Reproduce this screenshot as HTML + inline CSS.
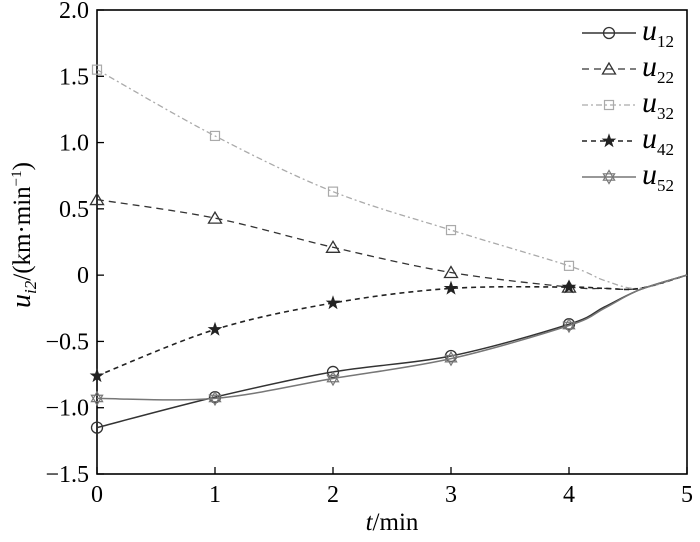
<!DOCTYPE html>
<html><head><meta charset="utf-8"><style>
body{margin:0;background:#fff;}
svg text{font-family:"Liberation Serif",serif;}
</style></head><body>
<svg id="chart" width="700" height="537" xmlns="http://www.w3.org/2000/svg"></svg>
<script>
const tVals=[0,1,2,3,4];
const u12=[-1.15,-0.92,-0.73,-0.61,-0.37];
const u22=[0.57,0.43,0.21,0.02,-0.09];
const u32=[1.55,1.05,0.63,0.34,0.07];
const u42=[-0.76,-0.41,-0.21,-0.10,-0.09];
const u52=[-0.93,-0.93,-0.78,-0.63,-0.38];
const tailT=[4.3,4.6,5];
const tail12=[-0.24,-0.11,0];
const tail22=[-0.10,-0.10,0];
const tail32=[-0.04,-0.10,0];
const tail42=[-0.10,-0.10,0];
const tail52=[-0.25,-0.11,0];
const xTicks=[0,1,2,3,4,5];
const yTicks=[2.0,1.5,1.0,0.5,0,-0.5,-1.0,-1.5];
const yTickLabels=["2.0","1.5","1.0","0.5","0","\u22120.5","\u22121.0","\u22121.5"];
const L=97,R=687,T=10,B=474;
const X=t=>L+(t-0)/5*(R-L);
const Y=v=>T+(2.0-v)/3.5*(B-T);
const svg=document.getElementById('chart');
const NS="http://www.w3.org/2000/svg";
function mk(tag,attrs,parent){const e=document.createElementNS(NS,tag);for(const k in attrs)e.setAttribute(k,attrs[k]);(parent||svg).appendChild(e);return e;}
function smooth(pts){let d=`M${pts[0][0]},${pts[0][1]}`;for(let i=0;i<pts.length-1;i++){const p0=pts[i-1]||pts[i],p1=pts[i],p2=pts[i+1],p3=pts[i+2]||p2;const c1=[p1[0]+(p2[0]-p0[0])/6,p1[1]+(p2[1]-p0[1])/6],c2=[p2[0]-(p3[0]-p1[0])/6,p2[1]-(p3[1]-p1[1])/6];d+=`C${c1[0]},${c1[1]} ${c2[0]},${c2[1]} ${p2[0]},${p2[1]}`;}return d;}
function marker(type,x,y,color,g){
  if(type==='circle'){const c=mk('circle',{cx:x,cy:y,r:5.5,fill:'none',stroke:color,'stroke-width':1.3},g);}
  else if(type==='tri'){const p=mk('polygon',{points:`${x},${y-6} ${x-6.5},${y+5} ${x+6.5},${y+5}`,fill:'none',stroke:color,'stroke-width':1.3},g);}
  else if(type==='square'){const p=mk('rect',{x:x-4.5,y:y-4.5,width:9,height:9,fill:'none',stroke:color,'stroke-width':1.2},g);}
  else if(type==='star'){let pts=[];for(let i=0;i<10;i++){const a=-Math.PI/2+i*Math.PI/5,r=i%2?2.6:6.5;pts.push((x+r*Math.cos(a))+','+(y+r*Math.sin(a)));}const p=mk('polygon',{points:pts.join(' '),fill:color,stroke:color,'stroke-width':0.8},g);}
  else if(type==='hex'){const p1=mk('polygon',{points:`${x},${y-6.5} ${x-5.6},${y+3.2} ${x+5.6},${y+3.2}`,fill:'none',stroke:color,'stroke-width':1.2},g);const p2=mk('polygon',{points:`${x},${y+6.5} ${x-5.6},${y-3.2} ${x+5.6},${y-3.2}`,fill:'none',stroke:color,'stroke-width':1.2},g);}
}
const box=mk('rect',{x:L,y:T,width:R-L,height:B-T,fill:'none',stroke:'#000','stroke-width':1.6});

xTicks.forEach(t=>{const l=mk('line',{x1:X(t),x2:X(t),y1:B,y2:B-7,stroke:'#000','stroke-width':1.3});
 const tx=mk('text',{x:X(t),y:B+28,'text-anchor':'middle','font-size':24});tx.textContent=t;});
yTicks.forEach((v,i)=>{const l=mk('line',{x1:L,x2:L+7,y1:Y(v),y2:Y(v),stroke:'#000','stroke-width':1.3});
 const tx=mk('text',{x:L-8,y:Y(v)+8,'text-anchor':'end','font-size':24});tx.textContent=yTickLabels[i];});
const xt=mk('text',{x:392,y:530,'text-anchor':'middle','font-size':25});xt.innerHTML='<tspan font-style="italic">t</tspan>/min';

const yt=mk('text',{transform:'translate(30,235) rotate(-90)','text-anchor':'middle','font-size':25});
yt.innerHTML='<tspan font-style="italic" font-size="28">u</tspan><tspan font-style="italic" font-size="17" dy="6">i2</tspan><tspan dy="-6">/(km·min</tspan><tspan font-size="15" dy="-9">−1</tspan><tspan dy="9">)</tspan>';

const series=[
 {name:'u12',sub:'12',vals:u12,tail:tail12,color:'#333',dash:'',m:'circle',w:1.5},
 {name:'u22',sub:'22',vals:u22,tail:tail22,color:'#333',dash:'7,5',m:'tri',w:1.3},
 {name:'u32',sub:'32',vals:u32,tail:tail32,color:'#aaa',dash:'6,3,2,3',m:'square',w:1.3},
 {name:'u42',sub:'42',vals:u42,tail:tail42,color:'#222',dash:'5,4',m:'star',w:1.6},
 {name:'u52',sub:'52',vals:u52,tail:tail52,color:'#777',dash:'',m:'hex',w:1.5}];
series.forEach((s,si)=>{
 const g=mk('g',{});
 const pts=tVals.map((t,i)=>[X(t),Y(s.vals[i])]).concat(tailT.map((t,i)=>[X(t),Y(s.tail[i])]));
 const p=mk('path',{d:smooth(pts),fill:'none',stroke:s.color,'stroke-width':s.w,'stroke-dasharray':s.dash},g);
 
 tVals.forEach((t,i)=>marker(s.m,X(t),Y(s.vals[i]),s.color,g));
 const ly=33+si*36;
 const lg=mk('g',{});
 const ll=mk('line',{x1:582,x2:636,y1:ly,y2:ly,stroke:s.color,'stroke-width':s.w,'stroke-dasharray':s.dash},lg);
 
 marker(s.m,609,ly,s.color,lg);
 const lt=mk('text',{x:642,y:ly+7,'font-size':30,'font-style':'italic'},lg);
 lt.innerHTML='u<tspan font-size="17" font-style="normal" dy="7">'+s.sub+'</tspan>';
 
});
</script>
</body></html>
